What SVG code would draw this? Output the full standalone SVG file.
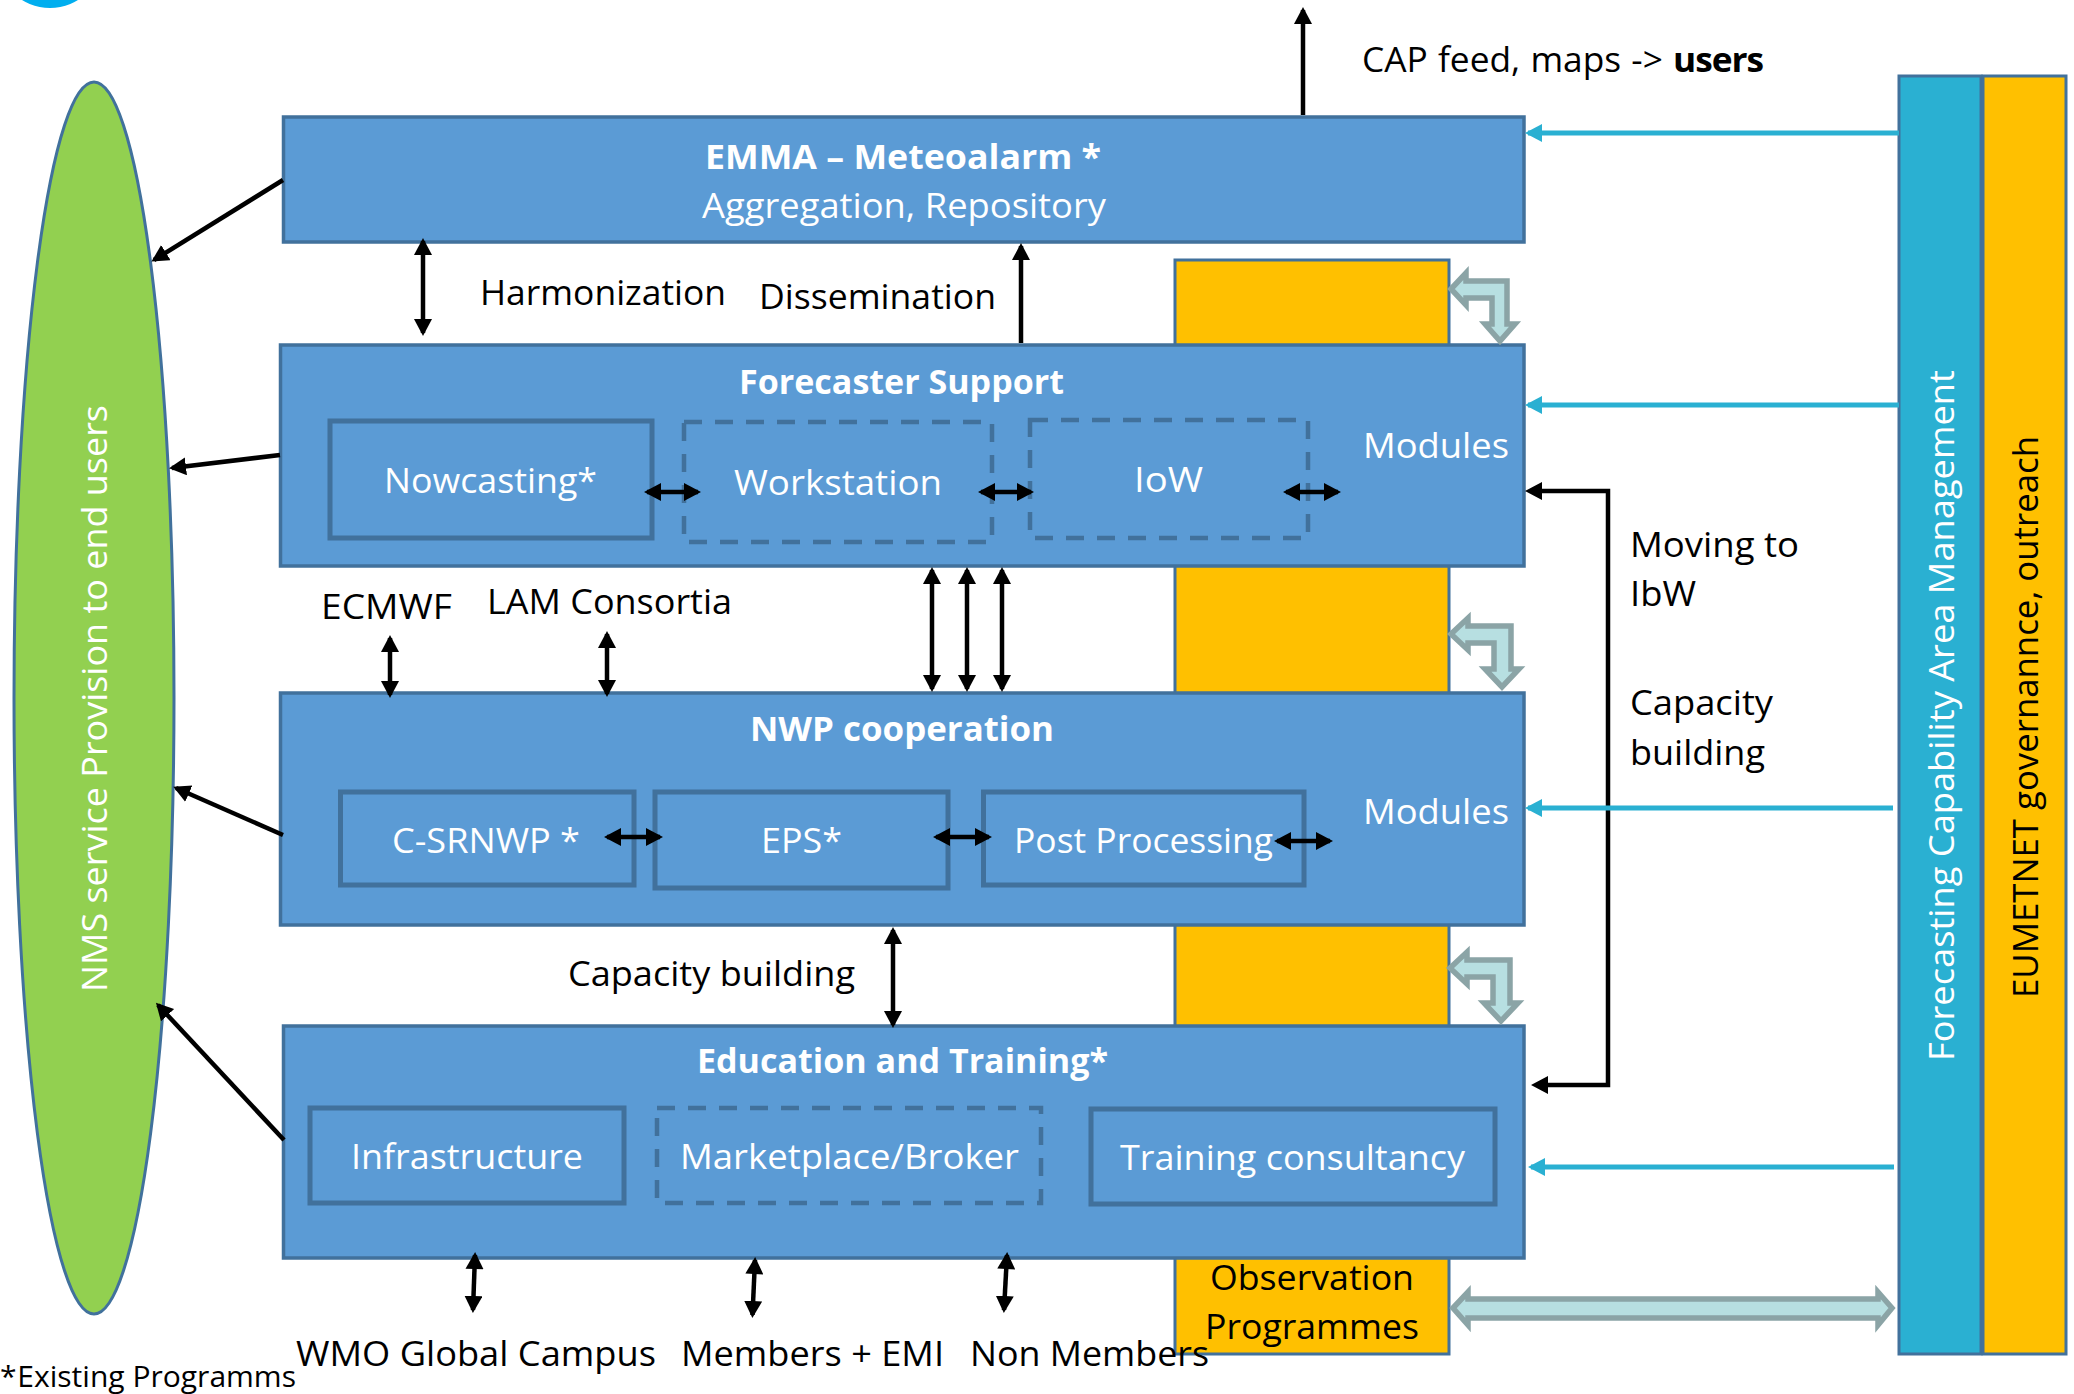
<svg xmlns="http://www.w3.org/2000/svg" width="2074" height="1394" viewBox="0 0 2074 1394">
<style>
text{font-family:"Open Sans","Noto Sans","Liberation Sans",sans-serif;font-size:34px;fill:#000}
.w{fill:#fff}
.b{font-weight:700}
.box{fill:#5B9BD5;stroke:#41719C;stroke-width:3.5}
.in{fill:none;stroke:#41719C;stroke-width:5}
.da{fill:none;stroke:#41719C;stroke-width:4.5;stroke-dasharray:18 13}
.or{fill:#FFC000;stroke:#41719C;stroke-width:3}
.k{stroke:#000;stroke-width:4.5;fill:none;marker-end:url(#ah)}
.kk{stroke:#000;stroke-width:4.5;fill:none;marker-end:url(#ah);marker-start:url(#as)}
.c{stroke:#2AB0D2;stroke-width:5;fill:none;marker-end:url(#ac)}
.h{fill:#B7DFE1;stroke:#8BA4A6;stroke-width:5.5}
</style>
<defs>
<marker id="ah" markerUnits="userSpaceOnUse" markerWidth="20" markerHeight="20" refX="14" refY="9" orient="auto"><path d="M0 0L17 9L0 18z" fill="#000"/></marker>
<marker id="as" markerUnits="userSpaceOnUse" markerWidth="20" markerHeight="20" refX="3" refY="9" orient="auto"><path d="M17 0L0 9L17 18z" fill="#000"/></marker>
<marker id="ac" markerUnits="userSpaceOnUse" markerWidth="20" markerHeight="20" refX="14" refY="9" orient="auto"><path d="M0 0L17 9L0 18z" fill="#2AB0D2"/></marker>
<path id="bent" d="M1451 634L1468 618V626H1511V669H1519L1502 687L1485 669H1494V643H1468V650z"/>
</defs>
<circle id="logo" cx="50" cy="-45" r="53" fill="#00AEEF"/>
<g id="observation-bar"><rect class="or" x="1175" y="260" width="274" height="1094"/>
<text x="1210" y="1290" textLength="204" lengthAdjust="spacingAndGlyphs">Observation</text>
<text x="1205" y="1339" textLength="214" lengthAdjust="spacingAndGlyphs">Programmes</text></g>
<g id="nms"><ellipse cx="94" cy="698" rx="80" ry="616" fill="#92D050" stroke="#41719C" stroke-width="3"/>
<text class="w" transform="translate(107 992) rotate(-90)" textLength="587" lengthAdjust="spacingAndGlyphs">NMS service Provision to end users</text></g>
<g id="emma"><rect class="box" x="283.500" y="117" width="1240.500" height="125"/>
<text class="w b" x="705" y="169" textLength="396" lengthAdjust="spacingAndGlyphs">EMMA – Meteoalarm *</text>
<text class="w" x="702" y="218" textLength="404" lengthAdjust="spacingAndGlyphs">Aggregation, Repository</text></g>
<g id="forecaster"><rect class="box" x="280.500" y="345" width="1243.500" height="221"/>
<text class="w b" x="739" y="394" textLength="325" lengthAdjust="spacingAndGlyphs">Forecaster Support</text>
<text class="w" x="1363" y="458" textLength="146" lengthAdjust="spacingAndGlyphs">Modules</text></g>
<g id="nowcasting"><rect class="in" x="330" y="421" width="322" height="117"/><text class="w" x="384" y="493" textLength="213" lengthAdjust="spacingAndGlyphs">Nowcasting*</text></g>
<g id="workstation"><rect class="da" x="684" y="422" width="308" height="120"/><text class="w" x="734" y="495" textLength="208" lengthAdjust="spacingAndGlyphs">Workstation</text></g>
<g id="iow"><rect class="da" x="1030" y="420" width="278" height="118"/><text class="w" x="1134" y="492" textLength="69" lengthAdjust="spacingAndGlyphs">IoW</text></g>
<g id="nwp"><rect class="box" x="280.500" y="693" width="1243.500" height="232"/>
<text class="w b" x="750" y="741" textLength="304" lengthAdjust="spacingAndGlyphs">NWP cooperation</text>
<text class="w" x="1363" y="824" textLength="146" lengthAdjust="spacingAndGlyphs">Modules</text></g>
<g id="csrnwp"><rect class="in" x="340.500" y="792" width="293.500" height="93"/><text class="w" x="392" y="853" textLength="188" lengthAdjust="spacingAndGlyphs">C-SRNWP *</text></g>
<g id="eps"><rect class="in" x="655" y="792" width="293" height="96"/><text class="w" x="761" y="853" textLength="81" lengthAdjust="spacingAndGlyphs">EPS*</text></g>
<g id="post"><rect class="in" x="983.500" y="792" width="320.500" height="93"/><text class="w" x="1014" y="853" textLength="259" lengthAdjust="spacingAndGlyphs">Post Processing</text></g>
<g id="education"><rect class="box" x="283.500" y="1026" width="1240.500" height="232"/>
<text class="w b" x="697" y="1073" textLength="411" lengthAdjust="spacingAndGlyphs">Education and Training*</text></g>
<g id="infrastructure"><rect class="in" x="310" y="1108" width="314" height="95"/><text class="w" x="351" y="1169" textLength="232" lengthAdjust="spacingAndGlyphs">Infrastructure</text></g>
<g id="marketplace"><rect class="da" x="657" y="1108" width="384" height="95"/><text class="w" x="680" y="1169" textLength="339" lengthAdjust="spacingAndGlyphs">Marketplace/Broker</text></g>
<g id="training"><rect class="in" x="1091" y="1109" width="404" height="95"/><text class="w" x="1120" y="1170" textLength="345" lengthAdjust="spacingAndGlyphs">Training consultancy</text></g>
<g id="capability"><rect x="1899" y="76" width="82" height="1278" fill="#2AB0D2" stroke="#41719C" stroke-width="3"/>
<text class="w" transform="translate(1954 1061) rotate(-90)" textLength="691" lengthAdjust="spacingAndGlyphs">Forecasting Capability Area Management</text></g>
<g id="eumetnet"><rect x="1983" y="76" width="83" height="1278" fill="#FFC000" stroke="#41719C" stroke-width="3"/>
<text transform="translate(2038 998) rotate(-90)" textLength="562" lengthAdjust="spacingAndGlyphs">EUMETNET governannce, outreach</text></g>
<g id="labels">
<text x="1362" y="72" textLength="401" lengthAdjust="spacingAndGlyphs" style="word-spacing:1px">CAP feed, maps -&gt; <tspan class="b" style="letter-spacing:-1px">users</tspan></text>
<text x="480" y="305" textLength="246" lengthAdjust="spacingAndGlyphs">Harmonization</text>
<text x="759" y="309" textLength="237" lengthAdjust="spacingAndGlyphs">Dissemination</text>
<text x="1630" y="557" textLength="169" lengthAdjust="spacingAndGlyphs">Moving to</text>
<text x="1630" y="606" textLength="66" lengthAdjust="spacingAndGlyphs">IbW</text>
<text x="1630" y="715" textLength="143" lengthAdjust="spacingAndGlyphs">Capacity</text>
<text x="1630" y="765" textLength="135" lengthAdjust="spacingAndGlyphs">building</text>
<text x="321" y="619" textLength="131" lengthAdjust="spacingAndGlyphs">ECMWF</text>
<text x="487" y="614" textLength="245" lengthAdjust="spacingAndGlyphs">LAM Consortia</text>
<text x="568" y="986" textLength="287" lengthAdjust="spacingAndGlyphs">Capacity building</text>
<text x="296" y="1366" textLength="360" lengthAdjust="spacingAndGlyphs">WMO Global Campus</text>
<text x="681" y="1366" textLength="263" lengthAdjust="spacingAndGlyphs">Members + EMI</text>
<text x="970" y="1366" textLength="239" lengthAdjust="spacingAndGlyphs">Non Members</text>
<text x="0" y="1387" style="font-size:30px" textLength="296" lengthAdjust="spacingAndGlyphs"><tspan style="word-spacing:-7px">* </tspan>Existing Programms</text>
</g>
<g id="connectors">
<path class="k" d="M1303 115V10"/>
<path class="k" d="M1021 343V246"/>
<path class="kk" d="M423 241V333"/>
<path class="k" d="M283 180L154 260"/>
<path class="k" d="M280 455L172 468"/>
<path class="k" d="M283 835L176 788"/>
<path class="k" d="M284 1140L158 1005"/>
<path class="kk" d="M390 638V695"/>
<path class="kk" d="M607 634V694"/>
<path class="kk" d="M932 570V689"/>
<path class="kk" d="M967 570V689"/>
<path class="kk" d="M1002 570V689"/>
<path class="kk" d="M893 930V1025"/>
<path class="kk" d="M475 1255L473 1310"/>
<path class="kk" d="M755 1260L752.500 1315"/>
<path class="kk" d="M1007 1255L1004 1310"/>
<path class="kk" d="M647 492H698"/>
<path class="kk" d="M981 492H1031"/>
<path class="kk" d="M1286 492H1338"/>
<path class="kk" d="M607 837H660"/>
<path class="kk" d="M936 837H989"/>
<path class="kk" d="M1277 841H1330"/>
<path d="M1540 491H1608V1085H1545" fill="none" stroke="#000" stroke-width="4.500"/>
<path d="M1542 482L1525 491L1542 500zM1548 1076L1531 1085L1548 1094z" fill="#000"/>
<path class="c" d="M1899 133H1528"/>
<path class="c" d="M1899 405H1528"/>
<path class="c" d="M1893 808H1528"/>
<path class="c" d="M1894 1167H1531"/>
<path class="h" d="M1451 289L1466 273V281H1507V324H1515L1500 341L1485 324H1492V298H1466V305z"/>
<use href="#bent" class="h"/>
<use href="#bent" class="h" y="334" x="-1"/>
<path class="h" d="M1453 1308L1468 1292V1299H1878V1292L1892 1308L1878 1325V1318H1468V1325z"/>
</g>
</svg>
